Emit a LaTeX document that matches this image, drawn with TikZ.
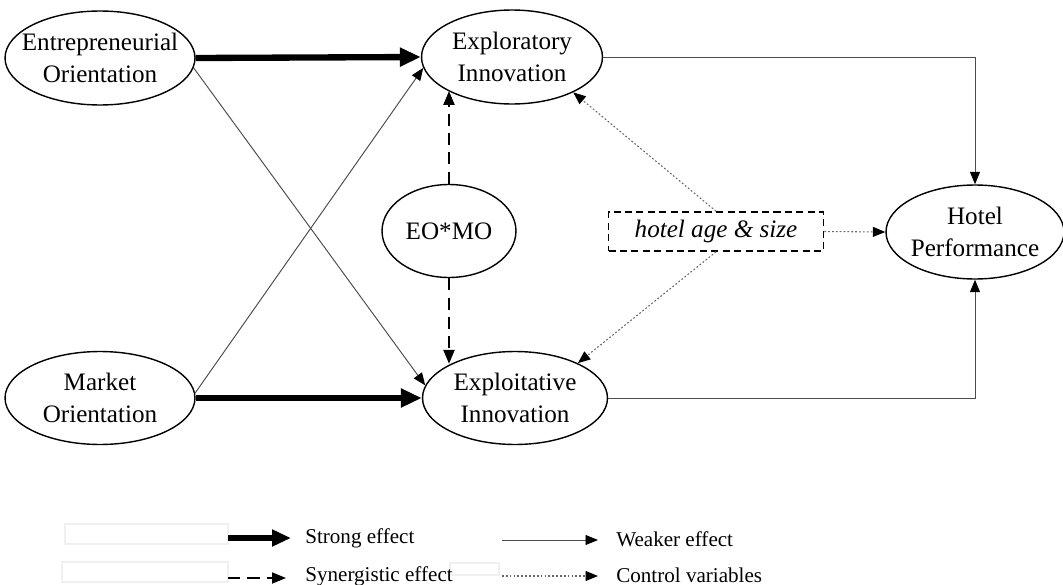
\documentclass[tikz,border=0pt]{standalone}
\usepackage{fontspec}
\setmainfont{Liberation Serif}
\usetikzlibrary{shapes.geometric,arrows.meta}
\begin{document}
\begin{tikzpicture}[x=0.02cm,y=-0.02cm,
  ell/.style={draw, ellipse, line width=0.8pt, inner xsep=-30pt, inner ysep=0pt,
    align=center, font=\fontsize{14.3}{18}\selectfont},
  strong/.style={line width=3.6pt, -{Triangle[length=0.42cm,width=0.36cm]}},
  weak/.style={line width=0.55pt, draw=black!70, -{Triangle[length=0.25cm,width=0.2cm,color=black]}},
  syn/.style={line width=1.3pt, dash pattern=on 7pt off 4pt, -{Triangle[length=0.28cm,width=0.22cm]}},
  ctl/.style={line width=0.6pt, draw=black!60, dash pattern=on 1pt off 1.2pt, -{Triangle[length=0.25cm,width=0.2cm,color=black]}},
  leg/.style={anchor=west, inner sep=0pt, font=\fontsize{12}{14}\selectfont},
  faint/.style={draw=black!6, line width=0.6pt}
]
\useasboundingbox (0,0) rectangle (1063,585);

% nodes
\node[ell, minimum width=3.8cm, minimum height=1.88cm] (eo) at (100,58) {Entrepreneurial\\Orientation};
\node[ell, minimum width=3.8cm, minimum height=1.86cm] (mo) at (100,398) {Market\\Orientation};
\node[ell, minimum width=3.62cm, minimum height=1.88cm] (expl) at (512,57) {Exploratory\\Innovation};
\node[ell, minimum width=3.7cm, minimum height=1.86cm] (exploit) at (515,398) {Exploitative\\Innovation};
\node[ell, minimum width=2.68cm, minimum height=1.86cm] (emo) at (449,231) {EO*MO};
\node[ell, minimum width=3.56cm, minimum height=1.88cm] (hotel) at (975,232) {Hotel\\Performance};
\node[draw, line width=0.9pt, dash pattern=on 4pt off 2.5pt, minimum width=4.3cm, minimum height=0.78cm,
  inner sep=0pt, font=\fontsize{14.3}{18}\selectfont\itshape] (ctrl) at (716,231.5) {hotel age \& size};

% connectors
\draw[strong] (eo.east) -- (expl.west);
\draw[strong] (mo.east) -- (exploit.west);
\draw[weak] (eo.-6) -- (exploit.172);
\draw[weak] (mo.3) -- (expl.187);
\draw[syn] (emo.north) -- (emo.north |- expl.208);
\draw[syn] (emo.south) -- (emo.south |- exploit.152);
\draw[weak] (expl.east) -| (hotel.north);
\draw[weak] (exploit.east) -| (hotel.south);
\draw[ctl] (ctrl.north) -- (expl.-30);
\draw[ctl] (ctrl.south) -- (exploit.29);
\draw[ctl] (ctrl.east) -- (hotel.west);

% legend
\draw[faint] (65,524) rectangle (228,544);
\draw[faint] (62,562) rectangle (228,582);
\draw[faint] (450,563) rectangle (499,575);

\node[leg] (l1) at (305,538) {Strong effect};
\node[leg] (l2) at (616,539) {Weaker effect};
\node[leg] (l3) at (305,576) {Synergistic effect};
\node[leg] (l4) at (616,575) {Control variables};

\coordinate (a1s) at (228,538); \coordinate (a1e) at (291,538);
\coordinate (a2s) at (502,540); \coordinate (a2e) at (598,540);
\coordinate (a3s) at (228,578); \coordinate (a3e) at (286,578);
\coordinate (a4s) at (502,576); \coordinate (a4e) at (598,576);
\draw[strong, line width=3pt, -{Triangle[length=0.38cm,width=0.32cm]}] (a1s) -- (a1e);
\draw[weak] (a2s) -- (a2e);
\draw[syn, line width=1pt] (a3s) -- (a3e);
\draw[ctl] (a4s) -- (a4e);
\end{tikzpicture}
\end{document}
